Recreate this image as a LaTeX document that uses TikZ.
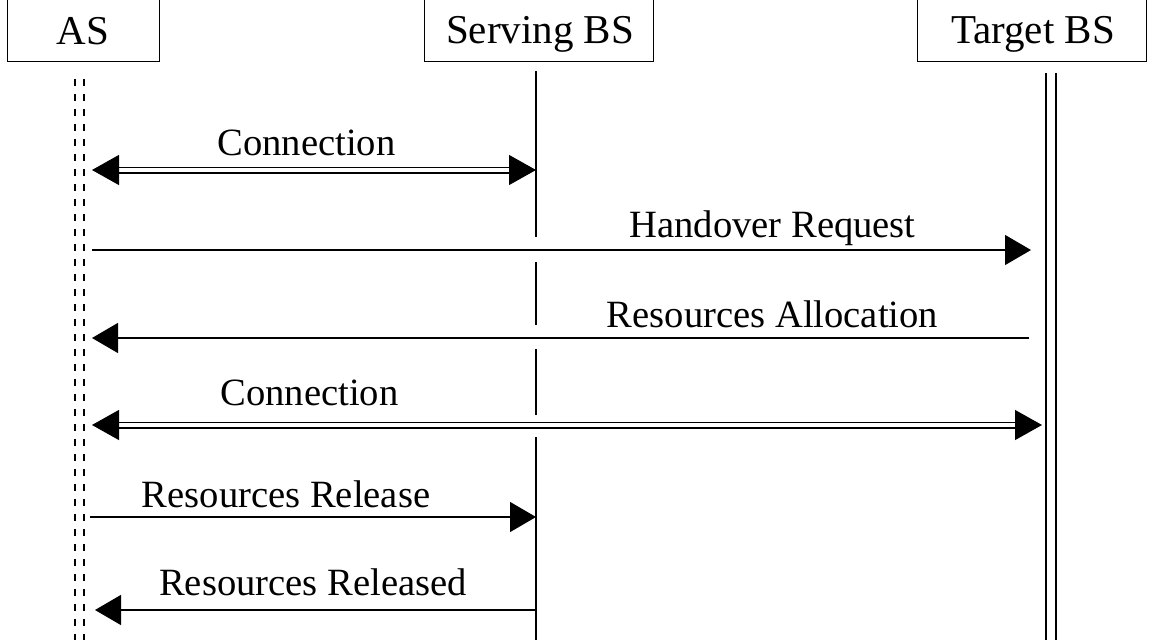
\documentclass[tikz,border=0pt]{standalone}
\usepackage{fontspec}
\setmainfont{Liberation Serif}
\usetikzlibrary{arrows.meta}
\begin{document}
\begin{tikzpicture}[x=1pt,y=-1pt,
  lw/.style={line width=1.3pt},
  box/.style={draw,lw,minimum height=70pt,inner sep=0pt,anchor=south west},
  hdr/.style={font=\fontsize{41}{45}\selectfont,anchor=base,inner sep=0pt},
  lbl/.style={font=\fontsize{38.6}{42}\selectfont,anchor=base,inner sep=0pt},
  msg/.style={lw,-{Triangle[length=26pt,width=30pt]}},
  dmsg/.style={line width=1.2pt,double,double distance=4.6pt,{Triangle[length=27pt,width=30pt]}-{Triangle[length=27pt,width=30pt]}},
  life/.style={lw},
  dlife/.style={lw,dash pattern=on 7pt off 8pt}]
\useasboundingbox (0,0) rectangle (1157,640);
% boxes
\node[box,minimum width=152pt] (as) at (7,62) {};
\node[hdr] (astxt) at (83,44) {AS};
\node[box,minimum width=229pt] (sv) at (424,62) {};
\node[hdr] (svtxt) at (540,43) {Serving BS};
\node[box,minimum width=229pt] (tg) at (917,62) {};
\node[hdr] (tgtxt) at (1033,43) {Target BS};
% lifelines
\coordinate (asl1a) at (75,79); \coordinate (asl1b) at (75,640);
\coordinate (asl2a) at (84,79); \coordinate (asl2b) at (84,640);
\draw[dlife] (asl1a) -- (asl1b);
\draw[dlife] (asl2a) -- (asl2b);
\coordinate (s0) at (536,71); \coordinate (s1) at (536,237);
\coordinate (s2) at (536,262); \coordinate (s3) at (536,325);
\coordinate (s4) at (536,349); \coordinate (s5) at (536,415);
\coordinate (s6) at (536,437); \coordinate (s7) at (536,640);
\draw[life] (s0) -- (s1); \draw[life] (s2) -- (s3);
\draw[life] (s4) -- (s5); \draw[life] (s6) -- (s7);
\coordinate (t1a) at (1046,73); \coordinate (t1b) at (1046,640);
\coordinate (t2a) at (1056,73); \coordinate (t2b) at (1056,640);
\draw[life] (t1a) -- (t1b);
\draw[life] (t2a) -- (t2b);
% messages
\coordinate (m1a) at (92,170); \coordinate (m1b) at (536,170);
\draw[dmsg] (m1a) -- (m1b);
\node[lbl] (l1) at (306.5,155) {Connection};
\coordinate (m2a) at (92,250); \coordinate (m2b) at (1031,250);
\draw[msg] (m2a) -- (m2b);
\node[lbl] (l2) at (772.5,237) {Handover Request};
\coordinate (m3a) at (1029,338); \coordinate (m3b) at (92,338);
\draw[msg] (m3a) -- (m3b);
\node[lbl] (l3) at (772.5,327) {Resources Allocation};
\coordinate (m4a) at (92,425); \coordinate (m4b) at (1042,425);
\draw[dmsg] (m4a) -- (m4b);
\node[lbl] (l4) at (309.5,405) {Connection};
\coordinate (m5a) at (90,517); \coordinate (m5b) at (536,517);
\draw[msg] (m5a) -- (m5b);
\node[lbl] (l5) at (286,507) {Resources Release};
\coordinate (m6a) at (536,610); \coordinate (m6b) at (95,610);
\draw[msg] (m6a) -- (m6b);
\node[lbl] (l6) at (313,595) {Resources Released};
\end{tikzpicture}
\end{document}
